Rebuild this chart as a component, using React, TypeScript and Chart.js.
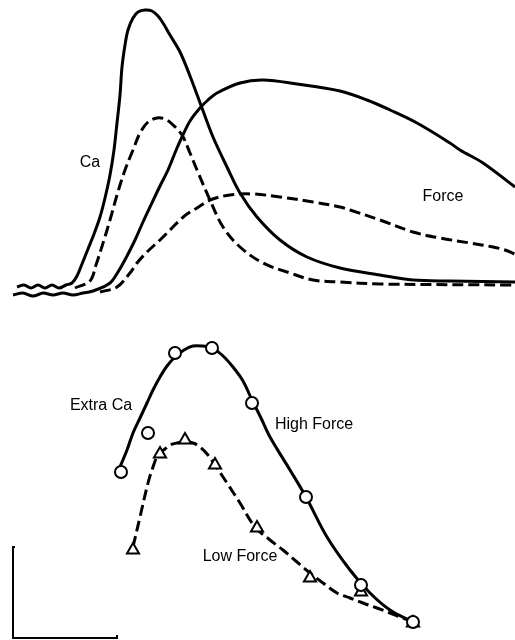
import { useEffect, useRef } from 'react';
import { Chart, registerables } from 'chart.js';

Chart.register(...registerables);

// ---------- Top panel: transients (time in ms, amplitude in arbitrary units) ----------
const caHighT = [4, 11, 18, 25, 32, 39, 46, 53, 59, 64, 69, 75, 81, 87, 92, 97, 101, 104, 107, 109, 112, 115, 120, 125, 132, 139, 145, 150, 157, 167, 177, 189, 200, 214, 227, 244, 267, 294, 327, 367, 400, 437, 502];
const caHighV = [9, 11, 8, 11, 8, 11, 8, 11, 13, 20, 32, 47, 62, 79, 98, 121, 146, 173, 201, 229, 251, 266, 278, 284, 286, 285, 280, 273, 261, 244, 220, 188, 159, 129, 103, 79, 56, 39, 28, 21, 16, 15, 14];

const caLowT = [62, 77, 83, 91, 97, 104, 112, 120, 127, 135, 144, 152, 159, 169, 177, 184, 197, 210, 227, 250, 277, 300, 327, 367, 502];
const caLowV = [8, 15, 31, 56, 76, 101, 126, 146, 163, 174, 178, 177, 172, 161, 143, 126, 96, 69, 49, 33, 23, 16, 14, 12, 11];

const forceHighT = [0, 10, 20, 30, 40, 50, 60, 70, 80, 97, 105, 114, 122, 130, 137, 147, 155, 164, 169, 177, 187, 195, 204, 227, 250, 284, 327, 354, 377, 404, 437, 447, 470, 502];
const forceHighV = [1, 3, 0, 3, 1, 3, 1, 3, 5, 13, 24, 40, 56, 74, 89, 110, 126, 148, 159, 175, 188, 196, 203, 213, 216, 212, 205, 196, 186, 173, 153, 146, 133, 109];

const forceLowT = [87, 104, 117, 124, 134, 147, 157, 167, 174, 184, 197, 217, 240, 267, 300, 327, 337, 367, 400, 427, 457, 480, 492, 502];
const forceLowV = [4, 9, 23, 33, 44, 56, 66, 76, 82, 88, 96, 101, 102, 99, 94, 89, 86, 76, 64, 58, 53, 49, 46, 42];

// ---------- Bottom panel: extra Ca vs time ----------
const highFitT = [107, 114, 120, 127, 134, 140, 147, 154, 162, 171, 180, 189, 199, 209, 220, 230, 239, 248, 257, 277, 293, 314, 337, 357, 377, 400];
const highFitV = [156, 173, 190, 205, 220, 233, 246, 257, 266, 273, 277, 277, 275, 268, 256, 242, 223, 205, 186, 153, 126, 86, 53, 30, 13, 1];
const highObsT = [108, 135, 162, 199, 239, 293, 348, 400];
const highObsV = [151, 190, 270, 275, 220, 126, 38, 1];

const lowFitT = [120, 127, 135, 140, 145, 152, 157, 164, 172, 180, 187, 195, 202, 214, 227, 242, 257, 270, 284, 297, 310, 324, 337, 350, 364, 377, 400];
const lowFitV = [76, 106, 140, 156, 168, 174, 178, 180, 181, 180, 176, 168, 158, 140, 120, 96, 83, 73, 61, 50, 40, 30, 25, 20, 15, 10, 1];
const lowObsT = [120, 147, 172, 202, 244, 297, 348, 400];
const lowObsV = [73, 169, 183, 158, 95, 45, 31, 0];

// scale bar (calibration)
const barT = [2, 0, 0, 104, 104];
const barV = [76, 76, -15, -15, -12];

// text labels
const topLabelText = ['Ca', 'Force'];
const topLabelT = [77, 430];
const topLabelV = [133, 99];
const botLabelText = ['Extra Ca', 'High Force', 'Low Force'];
const botLabelT = [88, 301, 227];
const botLabelV = [217, 198, 66];

const T_MIN = -13;
const T_MAX = 502;
const FONT = '16px "Liberation Sans", Arial, Helvetica, sans-serif';

const pts = (xs: number[], ys: number[]) => xs.map((x, i) => ({ x, y: ys[i] }));

const labelsPlugin = {
  id: 'panelLabels',
  afterDatasetsDraw(chart: any, _args: any, opts: any) {
    const { ctx, scales } = chart;
    ctx.save();
    ctx.font = FONT;
    ctx.fillStyle = '#000';
    ctx.textAlign = 'center';
    ctx.textBaseline = 'middle';
    (opts.text || []).forEach((t: string, i: number) => {
      ctx.fillText(t, scales.x.getPixelForValue(opts.xs[i]), scales.y.getPixelForValue(opts.ys[i]));
    });
    ctx.restore();
  },
};

const curve = (data: any, dashed: boolean, width = 3) => ({
  data,
  borderColor: '#000',
  borderWidth: width,
  borderDash: dashed ? [11, 5] : [],
  pointRadius: 0,
  pointHoverRadius: 0,
  tension: 0.35,
  fill: false,
  order: 2,
});

const baseOptions = (yMin: number, yMax: number, labels: any) => ({
  responsive: false,
  animation: false as const,
  layout: { padding: 0, autoPadding: false },
  scales: {
    x: { type: 'linear' as const, display: false, min: T_MIN, max: T_MAX },
    y: { type: 'linear' as const, display: false, min: yMin, max: yMax },
  },
  plugins: {
    legend: { display: false },
    tooltip: { enabled: false },
    panelLabels: labels,
  },
});

export default function App() {
  const topRef = useRef<HTMLCanvasElement>(null);
  const botRef = useRef<HTMLCanvasElement>(null);

  useEffect(() => {
    document.body.style.margin = '0';
    const top = new Chart(topRef.current as HTMLCanvasElement, {
      type: 'line',
      data: {
        datasets: [
          curve(pts(caHighT, caHighV), false),
          curve(pts(caLowT, caLowV), true),
          curve(pts(forceHighT, forceHighV), false),
          curve(pts(forceLowT, forceLowV), true),
        ] as any,
      },
      options: baseOptions(-9, 296, { text: topLabelText, xs: topLabelT, ys: topLabelV }) as any,
      plugins: [labelsPlugin],
    });
    const bot = new Chart(botRef.current as HTMLCanvasElement, {
      type: 'line',
      data: {
        datasets: [
          {
            data: pts(highObsT, highObsV),
            showLine: false,
            pointStyle: 'circle',
            pointRadius: 6,
            pointBorderWidth: 2,
            pointBackgroundColor: '#fff',
            pointBorderColor: '#000',
            order: 0,
          },
          {
            data: pts(lowObsT, lowObsV),
            showLine: false,
            pointStyle: 'triangle',
            pointRadius: 7,
            pointBorderWidth: 2,
            pointBackgroundColor: '#fff',
            pointBorderColor: '#000',
            order: 0,
          },
          curve(pts(highFitT, highFitV), false),
          curve(pts(lowFitT, lowFitV), true),
          { ...curve(pts(barT, barV), false, 2), tension: 0 },
        ] as any,
      },
      options: {
        ...(baseOptions(-17, 318, { text: botLabelText, xs: botLabelT, ys: botLabelV }) as any),
        clip: false,
      },
      plugins: [labelsPlugin],
    });
    return () => {
      top.destroy();
      bot.destroy();
    };
  }, []);

  return (
    <div style={{ width: 515, height: 640, background: '#fff' }}>
      <canvas ref={topRef} width={515} height={305} style={{ display: 'block' }} />
      <canvas ref={botRef} width={515} height={335} style={{ display: 'block' }} />
    </div>
  );
}
